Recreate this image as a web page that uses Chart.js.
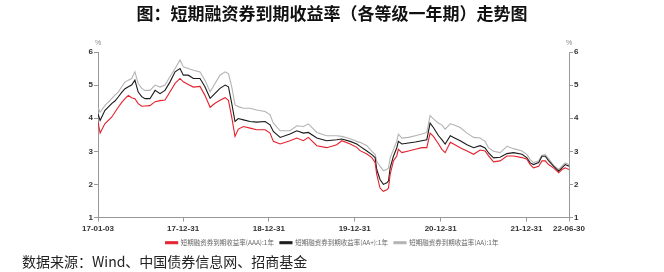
<!DOCTYPE html>
<html>
<head>
<meta charset="utf-8">
<script src="https://cdn.jsdelivr.net/npm/chart.js@4"></script>
<style>
body{margin:0;background:#fff;}
#wrap{position:relative;width:664px;height:272px;overflow:hidden;}
#titulo{position:absolute;top:0px;left:0;width:664px;text-align:center;font:bold 17px "Noto Sans CJK SC";color:#111;}
#fonte{position:absolute;left:22px;top:251px;font:14px "Noto Sans CJK SC";color:#222;}
canvas{position:absolute;left:0;top:0;}
</style>
</head>
<body>
<div id="wrap">
<canvas id="grafico" width="664" height="272"></canvas>
<div id="titulo">图：短期融资券到期收益率（各等级一年期）走势图</div>
<div id="fonte">数据来源：Wind、中国债券信息网、招商基金</div>
</div>
<script>
// dados
const datas = ['2017-01-03','2017-01-12','2017-02-01','2017-03-02','2017-03-16','2017-03-30','2017-04-14','2017-04-28','2017-05-12','2017-05-26',
  '2017-06-09','2017-06-23','2017-07-08','2017-07-22','2017-08-12','2017-09-03','2017-09-24','2017-10-15','2017-11-05','2017-11-27',
  '2017-12-18','2018-01-01','2018-01-22','2018-02-13','2018-03-13','2018-04-03','2018-04-25','2018-05-16','2018-06-06','2018-06-28',
  '2018-07-12','2018-07-26','2018-08-09','2018-08-23','2018-09-14','2018-10-12','2018-11-09','2018-12-15','2019-01-05','2019-01-19',
  '2019-02-17','2019-03-31','2019-04-29','2019-05-27','2019-06-17','2019-07-23','2019-09-03','2019-10-16','2019-11-06','2019-12-12',
  '2020-01-09','2020-01-23','2020-02-21','2020-03-13','2020-03-27','2020-04-03','2020-04-17','2020-05-01','2020-05-16','2020-05-23',
  '2020-05-30','2020-06-13','2020-06-27','2020-07-04','2020-07-19','2020-08-16','2020-09-14','2020-10-12','2020-11-02','2020-11-16',
  '2020-11-30','2020-12-22','2021-01-05','2021-01-19','2021-02-10','2021-02-24','2021-03-24','2021-04-22','2021-05-20','2021-06-17',
  '2021-07-08','2021-07-23','2021-08-13','2021-09-10','2021-10-09','2021-11-06','2021-12-12','2022-01-02','2022-01-16','2022-01-30',
  '2022-02-21','2022-03-07','2022-03-21','2022-04-04','2022-04-25','2022-05-17','2022-05-31','2022-06-14','2022-06-30'];

const aaa = [3.90,3.55,3.83,4.03,4.18,4.33,4.48,4.59,4.69,4.62,
  4.59,4.44,4.36,4.37,4.38,4.50,4.53,4.55,4.79,5.05,
  5.20,5.10,5.02,4.94,4.96,4.69,4.33,4.45,4.54,4.62,
  4.54,4.03,3.45,3.67,3.75,3.70,3.65,3.65,3.55,3.30,
  3.22,3.32,3.40,3.32,3.42,3.17,3.11,3.20,3.32,3.22,
  3.12,3.02,2.92,2.81,2.66,2.30,1.89,1.79,1.84,1.89,
  2.30,2.71,2.86,3.06,2.96,3.01,3.06,3.11,3.11,3.55,
  3.45,3.22,3.06,2.96,3.27,3.22,3.11,3.01,2.91,3.04,
  3.01,2.86,2.68,2.71,2.86,2.86,2.81,2.76,2.60,2.50,
  2.55,2.71,2.71,2.60,2.50,2.35,2.45,2.50,2.45];

const aaMais = [4.13,3.93,4.23,4.44,4.52,4.64,4.78,4.89,4.95,5.00,
  5.15,4.79,4.65,4.59,4.59,4.84,4.74,4.84,5.09,5.40,
  5.50,5.30,5.30,5.20,5.20,4.95,4.60,4.75,4.90,5.00,
  4.95,4.45,3.90,3.99,3.95,3.90,3.88,3.90,3.80,3.60,
  3.42,3.52,3.62,3.55,3.57,3.40,3.32,3.35,3.37,3.30,
  3.22,3.15,3.01,2.90,2.81,2.45,2.15,2.00,2.05,2.10,
  2.50,2.85,3.10,3.30,3.22,3.25,3.28,3.32,3.35,3.85,
  3.72,3.47,3.35,3.22,3.47,3.42,3.32,3.20,3.11,3.17,
  3.10,2.95,2.80,2.82,2.93,2.96,2.91,2.80,2.65,2.60,
  2.66,2.85,2.85,2.72,2.55,2.40,2.50,2.60,2.55];

const aa = [4.33,4.18,4.38,4.59,4.70,4.79,4.95,5.09,5.15,5.20,
  5.40,5.05,4.90,4.84,4.84,5.00,4.94,5.00,5.25,5.50,
  5.76,5.55,5.50,5.45,5.40,5.15,4.80,5.05,5.30,5.40,
  5.35,4.95,4.40,4.35,4.30,4.30,4.25,4.20,4.10,3.85,
  3.62,3.62,3.77,3.75,3.83,3.57,3.47,3.47,3.45,3.38,
  3.30,3.27,3.17,3.00,2.91,2.70,2.55,2.42,2.45,2.50,
  2.80,3.05,3.30,3.52,3.40,3.42,3.47,3.52,3.57,4.08,
  3.98,3.85,3.80,3.67,3.83,3.80,3.72,3.55,3.42,3.40,
  3.30,3.10,3.00,2.96,3.15,3.08,3.01,2.90,2.75,2.66,
  2.71,2.88,2.90,2.78,2.58,2.45,2.55,2.65,2.60];

const tickDatas = ['2017-01-03','2017-12-31','2018-12-31','2019-12-31','2020-12-31','2021-12-31','2022-06-30'];
const tickLabels = ['17-01-03','17-12-31','18-12-31','19-12-31','20-12-31','21-12-31','22-06-30'];
const nomes = ['短期融资券到期收益率(AAA):1年','短期融资券到期收益率(AA+):1年','短期融资券到期收益率(AA):1年'];
const cores = ['#e3202c','#1a1a1a','#b3b3b3'];

function dia(s){
    return Math.round((Date.parse(s) - Date.parse(datas[0])) / 86400000);
}

function serie(valores){
    return valores.map((v, i) => ({x: dia(datas[i]), y: v}));
}

const fonteEixo = {family: 'Liberation Sans', size: 8, weight: 'bold'};

function eixoY(pos, largura){
    return {
        position: pos,
        min: 1,
        max: 6,
        ticks: {stepSize: 1, font: fonteEixo, color: '#333', padding: 1},
        grid: {drawOnChartArea: false, tickLength: 4, color: '#999'},
        border: {color: '#999'},
        afterFit: s => { s.width = largura; }
    };
}

const porcento = {
    id: 'porcento',
    afterDraw(chart){
        const c = chart.ctx;
        c.save();
        c.font = '7px "Liberation Sans"';
        c.fillStyle = '#888';
        c.textAlign = 'center';
        c.textBaseline = 'middle';
        c.fillText('%', chart.scales.y.right, chart.chartArea.top - 9);
        c.fillText('%', chart.scales.y2.left, chart.chartArea.top - 9);
        c.restore();
    }
};

const ctx = document.getElementById('grafico').getContext('2d');
new Chart(ctx, {
    type: 'line',
    data: {
        datasets: [aaa, aaMais, aa].map((vals, i) => ({
            label: nomes[i],
            data: serie(vals),
            borderColor: cores[i],
            backgroundColor: cores[i],
            borderWidth: 1.1,
            pointRadius: 0,
            tension: 0
        }))
    },
    options: {
        responsive: false,
        animation: false,
        layout: {padding: {top: 52, left: 0, right: 0, bottom: 16}},
        scales: {
            x: {
                type: 'linear',
                min: 0,
                max: dia('2022-06-30'),
                afterBuildTicks: s => { s.ticks = tickDatas.map(d => ({value: dia(d)})); },
                ticks: {
                    autoSkip: false,
                    maxRotation: 0,
                    font: fonteEixo,
                    color: '#333',
                    padding: 2,
                    callback: v => tickLabels[tickDatas.findIndex(d => dia(d) === v)]
                },
                grid: {drawOnChartArea: false, tickLength: 4, color: '#999'},
                border: {color: '#999'},
                afterFit: s => { s.height = 16; }
            },
            y: eixoY('left', 98),
            y2: eixoY('right', 95)
        },
        plugins: {
            legend: {
                position: 'bottom',
                labels: {
                    boxWidth: 12,
                    boxHeight: 2,
                    padding: 6,
                    color: '#666',
                    font: {family: 'Noto Sans CJK SC', size: 6.5}
                }
            },
            tooltip: {enabled: false}
        }
    },
    plugins: [porcento]
});
</script>
</body>
</html>
